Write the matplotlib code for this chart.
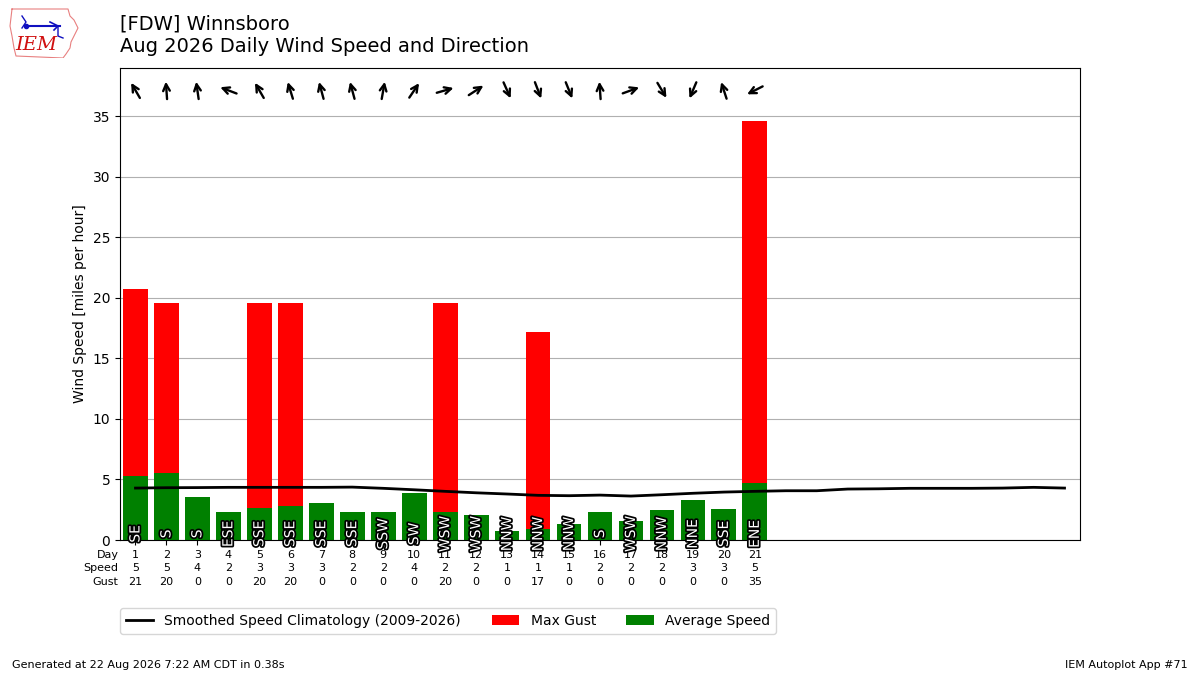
import matplotlib
matplotlib.use("Agg")
import matplotlib.pyplot as plt
import matplotlib.patheffects as PathEffects
from matplotlib.transforms import offset_copy
import numpy as np

# daily observations, Aug 2026
days = list(range(1, 22))
avg_speed = [5.3, 5.5, 3.55, 2.3, 2.65, 2.8, 3.05, 2.3, 2.3, 3.9, 2.3,
             2.05, 0.75, 0.9, 1.3, 2.3, 1.6, 2.5, 3.3, 2.55, 4.7]
max_gust = [20.7, 19.6, 0, 0, 19.6, 19.6, 0, 0, 0, 0, 19.6,
            0, 0, 17.2, 0, 0, 0, 0, 0, 0, 34.6]
speed_lbl = [5, 5, 4, 2, 3, 3, 3, 2, 2, 4, 2, 2, 1, 1, 1, 2, 2, 2, 3, 3, 5]
gust_lbl = [21, 20, 0, 0, 20, 20, 0, 0, 0, 0, 20, 0, 0, 17, 0, 0, 0, 0, 0, 0, 35]
drct = [150, 176, 172, 111, 150, 163, 165, 165, 190, 214, 254,
        237, 336, 339, 338, 176, 250, 329, 23, 162, 63]
drct_txt = ["SE", "S", "S", "ESE", "SSE", "SSE", "SSE", "SSE", "SSW", "SW", "WSW",
            "WSW", "NNW", "NNW", "NNW", "S", "WSW", "NNW", "NNE", "SSE", "ENE"]

# smoothed climatology for every day of the month
clim_days = list(range(1, 32))
clim_speed = [4.29, 4.32, 4.33, 4.35, 4.35, 4.35, 4.35, 4.37, 4.27, 4.15,
              4.02, 3.90, 3.80, 3.69, 3.66, 3.71, 3.63, 3.74, 3.86, 3.96,
              4.02, 4.07, 4.07, 4.21, 4.23, 4.27, 4.27, 4.27, 4.29, 4.35, 4.29]

fig = plt.figure(figsize=(12, 6.75), dpi=100)
ax = fig.add_axes([0.1, 0.2, 0.8, 0.6993])

ax.bar(days, max_gust, width=0.8, color="r", label="Max Gust", zorder=2)
ax.bar(days, avg_speed, width=0.8, color="g", label="Average Speed", zorder=2)
ax.plot(clim_days, clim_speed, color="k", lw=2, zorder=3,
        label="Smoothed Speed Climatology (2009-2026)")

for d, txt in zip(days, drct_txt):
    t = ax.text(d, 0.5, txt, rotation=90, ha="center", va="center",
                color="white", fontsize=10, zorder=4)
    t.set_path_effects([PathEffects.withStroke(linewidth=2.5, foreground="k")])

# wind direction arrows (pointing where the wind blows to)
half = 6.3
for d, deg in zip(days, drct):
    to = np.radians(deg + 180)
    dx, dy = np.sin(to) * half, np.cos(to) * half
    head = offset_copy(ax.transData, fig=fig, x=dx, y=dy, units="points")
    tail = offset_copy(ax.transData, fig=fig, x=-dx, y=-dy, units="points")
    ax.annotate("", xy=(d, 37.15), xycoords=head,
                xytext=(d, 37.15), textcoords=tail,
                arrowprops=dict(arrowstyle="->", lw=1.7, color="k",
                                shrinkA=0, shrinkB=0, mutation_scale=12))

ax.set_xlim(0.5, 31.5)
ax.set_ylim(0, 39)
ax.set_yticks(range(0, 36, 5))
ax.yaxis.grid(True, color="#b0b0b0", zorder=0)
ax.set_axisbelow(True)
ax.set_ylabel("Wind Speed [miles per hour]")
ax.set_xticks(days)
ax.set_xticklabels([f"{d}\n{s}\n{g}" for d, s, g in zip(days, speed_lbl, gust_lbl)],
                   fontsize=8)
for lbl in ax.get_xticklabels():
    lbl.set_linespacing(1.45)
ax.text(0, 0, "Day\nSpeed\nGust", ha="right", va="top", fontsize=8, linespacing=1.45,
        transform=offset_copy(ax.transAxes, fig=fig, x=-1, y=-7, units="points"))

ax.legend(loc="upper left", bbox_to_anchor=(0.0, -0.145), ncol=3, fontsize=10,
          borderaxespad=0, columnspacing=2.2)

fig.text(0.1, 0.978, "[FDW] Winnsboro\nAug 2026 Daily Wind Speed and Direction",
         ha="left", va="top", fontsize=14)
fig.text(0.01, 0.01, "Generated at 22 Aug 2026 7:22 AM CDT in 0.38s", fontsize=8)
fig.text(0.99, 0.01, "IEM Autoplot App #71", fontsize=8, ha="right")

# rough IEM logo
lax = fig.add_axes([8 / 1200, 1 - 58 / 675, 72 / 1200, 52 / 675])
lax.axis("off")
lax.set_xlim(0, 72)
lax.set_ylim(52, 0)
outline = [(4, 3), (60, 3), (62, 10), (66, 14), (70, 22), (66, 30), (63, 36),
           (62, 42), (58, 48), (55, 52), (8, 50), (6, 42), (4, 30), (2, 20), (4, 3)]
lax.plot([p[0] for p in outline], [p[1] for p in outline], color="#e88080", lw=0.8)
lax.plot([18, 52], [20, 20], color="#1010c0", lw=1.5)
lax.plot([14, 18, 14], [10, 16, 22], color="#1010c0", lw=1)
lax.plot([42, 50, 46], [16, 20, 24], color="#1010c0", lw=1.2)
lax.plot([50, 50, 55], [20, 30, 32], color="#1010c0", lw=1)
lax.plot([18], [20], "o", color="#1010c0", ms=3)
lax.text(28, 39, "IEM", color="#d01010", fontsize=14, family="DejaVu Serif",
         style="italic", ha="center", va="center")

fig.savefig("out.png", dpi=100)
